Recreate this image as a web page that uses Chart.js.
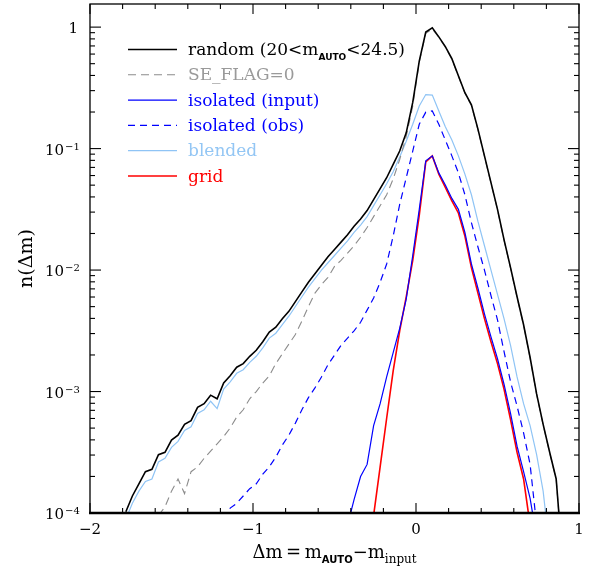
<!DOCTYPE html>
<html>
<head>
<meta charset="utf-8">
<script src="https://cdn.jsdelivr.net/npm/chart.js@4/dist/chart.umd.min.js"></script>
<style>
  html, body { margin: 0; padding: 0; background: #fff; }
</style>
</head>
<body>
<canvas id="chart" width="596" height="574"></canvas>
<script>
// delta m = m_AUTO - m_input, bin centres
const dm = [-1.90,-1.86,-1.82,-1.78,-1.74,-1.70,-1.66,-1.62,-1.58,-1.54,
            -1.50,-1.46,-1.42,-1.38,-1.34,-1.30,-1.26,-1.22,-1.18,-1.14,
            -1.10,-1.06,-1.02,-0.98,-0.94,-0.90,-0.86,-0.82,-0.78,-0.74,
            -0.70,-0.66,-0.62,-0.58,-0.54,-0.50,-0.46,-0.42,-0.38,-0.34,
            -0.30,-0.26,-0.22,-0.18,-0.14,-0.10,-0.06,-0.02, 0.02, 0.06,
             0.10, 0.14, 0.18, 0.22, 0.26, 0.30, 0.34, 0.38, 0.42, 0.46,
             0.50, 0.54, 0.58, 0.62, 0.66, 0.70, 0.74, 0.78, 0.82, 0.86,
             0.90];

// log10 n(delta m)
const logRandom = [null,null,null,-3.99,-3.86,-3.76,-3.66,-3.64,-3.52,-3.50,
                   -3.40,-3.36,-3.27,-3.24,-3.13,-3.10,-3.03,-3.06,-2.93,-2.87,
                   -2.80,-2.77,-2.71,-2.66,-2.59,-2.51,-2.47,-2.40,-2.34,-2.26,
                   -2.18,-2.10,-2.03,-1.96,-1.89,-1.83,-1.77,-1.71,-1.64,-1.58,
                   -1.51,-1.42,-1.33,-1.24,-1.13,-1.02,-0.87,-0.62,-0.28,-0.04,
                   -0.005,-0.08,-0.16,-0.26,-0.40,-0.54,-0.64,-0.84,-1.06,-1.28,
                   -1.50,-1.75,-1.98,-2.22,-2.45,-2.72,-3.02,-3.27,-3.50,-3.72,
                   -4.40];
const logSEflag = [null,null,null,null,null,null,null,null,-4.02,-3.95,
                   -3.82,-3.72,-3.84,-3.66,-3.62,-3.55,-3.49,-3.43,-3.37,-3.30,
                   -3.21,-3.15,-3.06,-3.00,-2.93,-2.87,-2.77,-2.69,-2.61,-2.53,
                   -2.42,-2.30,-2.19,-2.12,-2.06,-1.97,-1.92,-1.86,-1.80,-1.73,
                   -1.65,-1.56,-1.47,-1.38,-1.25,-1.09,-0.90,-0.65,-0.29,-0.05,
                   -0.015,-0.085,-0.165,-0.265,-0.405,-0.545,-0.645,-0.845,-1.065,-1.285,
                   -1.505,-1.755,-1.985,-2.225,-2.455,-2.725,-3.025,-3.275,-3.505,-3.725,
                   -4.40];
const logIsoInput = [null,null,null,null,null,null,null,null,null,null,
                     null,null,null,null,null,null,null,null,null,null,
                     null,null,null,null,null,null,null,null,null,null,
                     null,null,null,null,null,null,null,-4.10,-3.89,-3.70,
                     -3.60,-3.28,-3.10,-2.88,-2.68,-2.48,-2.24,-1.88,-1.50,-1.10,
                     -1.06,-1.20,-1.30,-1.41,-1.50,-1.69,-1.95,-2.15,-2.36,-2.55,
                     -2.73,-2.94,-3.18,-3.45,-3.66,-3.88,-4.20,null,null,null,
                     null];
const logIsoObs = [null,null,null,null,null,null,null,null,null,null,
                   null,null,null,null,null,null,null,null,-4.05,-3.96,
                   -3.92,-3.86,-3.80,-3.76,-3.68,-3.62,-3.54,-3.44,-3.36,-3.26,
                   -3.15,-3.05,-2.97,-2.88,-2.78,-2.70,-2.62,-2.56,-2.50,-2.43,
                   -2.33,-2.23,-2.10,-1.95,-1.72,-1.46,-1.24,-1.02,-0.80,-0.70,
                   -0.69,-0.80,-0.93,-1.06,-1.20,-1.38,-1.61,-1.81,-2.00,-2.21,
                   -2.41,-2.67,-2.92,-3.12,-3.34,-3.60,-4.10,null,null,null,
                   null];
const logBlended = [null,null,null,-4.05,-3.92,-3.82,-3.74,-3.72,-3.58,-3.55,
                    -3.46,-3.41,-3.32,-3.29,-3.18,-3.15,-3.08,-3.14,-2.98,-2.92,
                    -2.85,-2.82,-2.76,-2.71,-2.64,-2.56,-2.52,-2.45,-2.38,-2.30,
                    -2.22,-2.14,-2.07,-2.00,-1.94,-1.88,-1.82,-1.76,-1.69,-1.63,
                    -1.56,-1.47,-1.38,-1.29,-1.19,-1.07,-0.94,-0.80,-0.65,-0.555,
                    -0.56,-0.69,-0.82,-0.93,-1.06,-1.21,-1.38,-1.60,-1.80,-2.00,
                    -2.20,-2.40,-2.62,-2.88,-3.10,-3.28,-3.52,-3.82,-4.30,null,
                    null];
const logGrid = [null,null,null,null,null,null,null,null,null,null,
                 null,null,null,null,null,null,null,null,null,null,
                 null,null,null,null,null,null,null,null,null,null,
                 null,null,null,null,null,null,null,null,null,null,
                 null,-4.02,-3.62,-3.22,-2.83,-2.50,-2.22,-1.92,-1.55,-1.11,
                 -1.06,-1.21,-1.32,-1.43,-1.53,-1.72,-1.98,-2.19,-2.40,-2.59,
                 -2.77,-2.98,-3.23,-3.50,-3.72,-4.10,null,null,null,null,
                 null];

const seriesLabels = ["random (20<m_{AUTO}<24.5)", "SE_FLAG=0", "isolated (input)",
                      "isolated (obs)", "blended", "grid"];
const yDecades = [-4, -3, -2, -1, 0];
const xMajor = [-2, -1, 0, 1];

function points(logs) {
    return dm.map((x, i) => ({ x: x, y: logs[i] === null ? null : Math.pow(10, logs[i]) }));
}

// draws text with _{subscript} parts
function rich(ctx, text, x, y, size, align) {
    const parts = [];
    const re = /_\{([^}]*)\}/g;
    let last = 0, m;
    while ((m = re.exec(text))) {
        if (m.index > last) parts.push({ t: text.slice(last, m.index), sub: false });
        parts.push({ t: m[1], sub: true });
        last = re.lastIndex;
    }
    if (last < text.length) parts.push({ t: text.slice(last), sub: false });
    const font = p => {
        if (!p.sub) return size + 'px "DejaVu Serif"';
        if (p.t === p.t.toUpperCase()) return 'bold ' + Math.round(size * 0.55) + 'px "DejaVu Sans"';
        return Math.round(size * 0.68) + 'px "DejaVu Serif"';
    };
    let w = 0;
    parts.forEach(p => { ctx.font = font(p); p.w = ctx.measureText(p.t).width; w += p.w; });
    let cx = align === 'center' ? x - w / 2 : x;
    ctx.textAlign = 'left';
    ctx.textBaseline = 'alphabetic';
    parts.forEach(p => {
        ctx.font = font(p);
        ctx.fillText(p.t, cx, p.sub ? y + size * 0.27 : y);
        cx += p.w;
    });
}

const textColors = ['#000000', '#9a9a9a', '#0000ff', '#0000ff', '#93c6f4', '#ff0000'];

const framePlugin = {
    id: 'frame',
    afterDatasetsDraw(chart) {
        const { ctx, chartArea: a, scales } = chart;
        const xs = scales.x, ys = scales.y;
        ctx.save();
        ctx.strokeStyle = '#000';
        ctx.fillStyle = '#000';
        const seg = (x1, y1, x2, y2) => { ctx.beginPath(); ctx.moveTo(x1, y1); ctx.lineTo(x2, y2); ctx.stroke(); };

        // ticks, pointing inward on all four sides
        ctx.lineWidth = 1.1;
        xs.ticks.forEach(t => {
            const px = xs.getPixelForValue(t.value);
            const len = Math.abs(t.value - Math.round(t.value)) < 1e-6 ? 10 : 5;
            seg(px, a.bottom, px, a.bottom - len);
            seg(px, a.top, px, a.top + len);
        });
        yDecades.forEach(e => {
            for (let k = 1; k <= 9; k++) {
                const v = k * Math.pow(10, e);
                if (v > ys.max) break;
                const py = ys.getPixelForValue(v);
                const len = k === 1 ? 11 : 5;
                seg(a.left, py, a.left + len, py);
                seg(a.right, py, a.right - len, py);
            }
        });

        // frame
        ctx.lineWidth = 1.3;
        ctx.strokeRect(a.left, a.top, a.right - a.left, a.bottom - a.top);
        ctx.lineWidth = 2.6;
        seg(a.left - 1, a.bottom, a.right + 1, a.bottom);

        // tick labels
        ctx.textBaseline = 'alphabetic';
        ctx.font = '15px "DejaVu Serif"';
        xMajor.forEach(v => {
            ctx.textAlign = 'center';
            const s = v < 0 ? '\u2212' + Math.abs(v) : String(v);
            ctx.fillText(s, xs.getPixelForValue(v), 534);
        });
        yDecades.forEach(e => {
            const py = ys.getPixelForValue(Math.pow(10, e));
            if (e === 0) {
                ctx.font = '15px "DejaVu Serif"';
                ctx.textAlign = 'right';
                ctx.fillText('1', 78, py + 6);
            } else {
                ctx.font = '15px "DejaVu Serif"';
                ctx.textAlign = 'right';
                ctx.fillText('10', 64, py + 6);
                ctx.font = '10px "DejaVu Serif"';
                ctx.textAlign = 'left';
                ctx.fillText('\u2212' + Math.abs(e), 65, py + 1);
            }
        });

        // axis titles
        ctx.fillStyle = '#000';
        rich(ctx, '\u0394m\u2009=\u2009m_{AUTO}\u2212m_{input}', (a.left + a.right) / 2, 558, 18, 'center');
        ctx.save();
        ctx.translate(32, (a.top + a.bottom) / 2);
        ctx.rotate(-Math.PI / 2);
        ctx.font = '19px "DejaVu Serif"';
        ctx.textAlign = 'center';
        ctx.fillText('n(\u0394m)', 0, 0);
        ctx.restore();

        // legend
        chart.data.datasets.forEach((ds, i) => {
            const ly = 49.5 + i * 25.3;
            ctx.strokeStyle = ds.borderColor;
            ctx.lineWidth = ds.borderWidth;
            ctx.setLineDash(ds.borderDash || []);
            seg(128, ly, 177, ly);
            ctx.setLineDash([]);
            ctx.fillStyle = textColors[i];
            rich(ctx, ds.label, 188, ly + 5.5, 17, 'left');
        });
        ctx.restore();
    }
};

const common = { pointRadius: 0, fill: false, tension: 0, spanGaps: false };

new Chart(document.getElementById('chart'), {
    type: 'line',
    data: {
        datasets: [
            { ...common, label: seriesLabels[0], data: points(logRandom), borderColor: '#000000', borderWidth: 1.6, order: 1 },
            { ...common, label: seriesLabels[1], data: points(logSEflag), borderColor: '#8c8c8c', borderWidth: 1.1, borderDash: [8, 5], order: 2 },
            { ...common, label: seriesLabels[2], data: points(logIsoInput), borderColor: '#0000ff', borderWidth: 1.2, order: 5 },
            { ...common, label: seriesLabels[3], data: points(logIsoObs), borderColor: '#0000ff', borderWidth: 1.2, borderDash: [7, 5], order: 4 },
            { ...common, label: seriesLabels[4], data: points(logBlended), borderColor: '#8fc4f5', borderWidth: 1.2, order: 3 },
            { ...common, label: seriesLabels[5], data: points(logGrid), borderColor: '#ff0000', borderWidth: 1.6, order: 6 }
        ]
    },
    options: {
        responsive: false,
        animation: false,
        layout: { padding: { left: 0, right: 17, top: 4, bottom: 0 } },
        plugins: {
            legend: { display: false },
            tooltip: { enabled: false }
        },
        scales: {
            x: {
                type: 'linear',
                min: -2,
                max: 1,
                ticks: { display: false, stepSize: 0.2 },
                grid: { display: false },
                border: { display: false },
                afterFit: s => { s.height = 61; }
            },
            y: {
                type: 'logarithmic',
                min: 1e-4,
                max: 1.55,
                ticks: { display: false },
                grid: { display: false },
                border: { display: false },
                afterFit: s => { s.width = 90; }
            }
        }
    },
    plugins: [framePlugin]
});
</script>
</body>
</html>
